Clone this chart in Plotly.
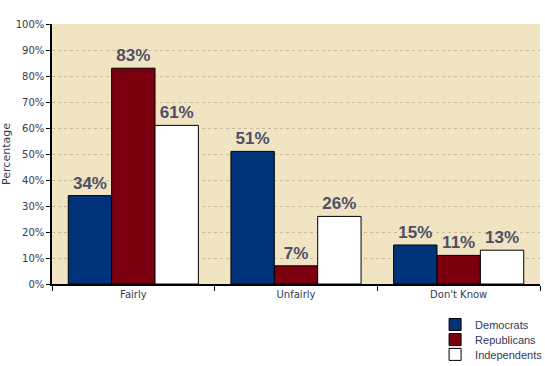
import plotly.graph_objects as go

categories = ["Fairly", "Unfairly", "Don't Know"]
democrats = [34, 51, 15]
republicans = [83, 7, 11]
independents = [61, 26, 13]
series_names = ["Democrats", "Republicans", "Independents"]
colors = ["#00337a", "#7a0010", "#ffffff"]
ytick_vals = list(range(0, 101, 10))
ytick_text = [f"{v}%" for v in ytick_vals]

FONT = "Verdana, DejaVu Sans"
LABEL_FONT = "Liberation Sans, Arial"
LEG_FONT = "Liberation Sans, Arial"

fig = go.Figure()
legend_ids = ["legend", "legend2", "legend3"]
for name, vals, col, lid in zip(series_names, [democrats, republicans, independents], colors, legend_ids):
    fig.add_trace(go.Bar(
        x=categories, y=vals, name=name, legend=lid,
        marker=dict(color=col, line=dict(color="#000000", width=1)),
        text=[f"{v}%" for v in vals], textposition="outside",
        textfont=dict(family=LABEL_FONT, size=17, color="#4b5066", weight="bold"),
        cliponaxis=False, hoverinfo="skip",
    ))

leg_common = dict(x=0.785, xanchor="left", yanchor="top",
                  bgcolor="rgba(0,0,0,0)",
                  font=dict(family=LEG_FONT, size=11, color="#333a55"),
                  itemwidth=30)

fig.update_layout(
    width=545, height=366,
    margin=dict(l=52, r=5, t=24, b=82, autoexpand=False),
    paper_bgcolor="#ffffff", plot_bgcolor="#f1e4c3",
    barmode="group", bargap=0.2, bargroupgap=0,
    font=dict(family=FONT, size=10, color="#333a55"),
    showlegend=True,
    legend=dict(y=-0.10, **leg_common),
    legend2=dict(y=-0.158, **leg_common),
    legend3=dict(y=-0.215, **leg_common),
)
fig.update_xaxes(showline=True, linecolor="#000000", linewidth=1.5,
                 ticks="outside", tickson="boundaries", ticklen=5, tickcolor="#000000",
                 showgrid=False, mirror=False, automargin=False,
                 tickfont=dict(family=FONT, size=10, color="#333a55"))
fig.update_yaxes(range=[0, 100], tickvals=ytick_vals, ticktext=ytick_text,
                 showline=True, linecolor="#000000", linewidth=1.5,
                 ticks="outside", ticklen=4, tickcolor="#000000",
                 gridcolor="#c9bc9a", griddash="3px,3px", gridwidth=1,
                 zeroline=False, automargin=False,
                 tickfont=dict(family=FONT, size=10, color="#333a55"),
                 title=dict(text="Percentage", standoff=4, font=dict(family=FONT, size=11, color="#333a55")))

fig.write_html("out.html", config={"displayModeBar": False},
               post_script="document.body.style.margin='0';document.body.style.padding='0';")
